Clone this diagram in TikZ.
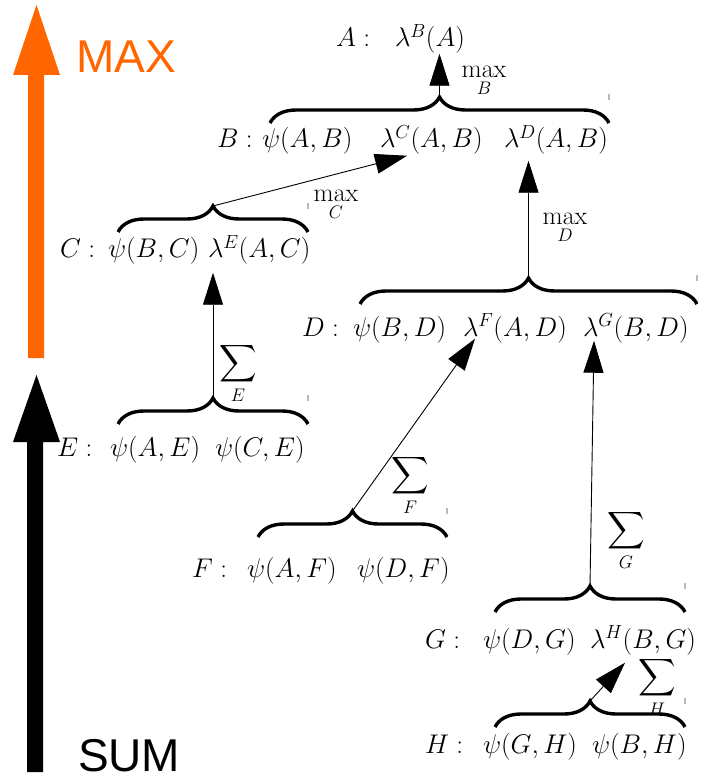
\RequirePackage{fix-cm}
\documentclass[tikz,border=0pt]{standalone}
\usepackage{fontspec}
\DeclareFontFamily{OMX}{cmex}{}
\DeclareFontShape{OMX}{cmex}{m}{n}{<->cmex10}{}
\newfontfamily\capsfont{Liberation Sans}
\usetikzlibrary{arrows.meta,decorations.pathreplacing,calc}
\definecolor{maxorange}{HTML}{FF6600}
\tikzset{
  txt/.style={inner sep=0pt, outer sep=0pt, anchor=base west, font=\fontsize{27}{32}\selectfont},
  lbl/.style={inner sep=0pt, outer sep=0pt, anchor=base, font=\fontsize{26}{31}\selectfont},
  brc/.style={decorate, decoration={brace, amplitude=26pt}, line width=3.4pt},
  conn/.style={line width=0.9pt, -{Triangle[length=32pt,width=20pt]}},
  tickmark/.style={gray!55, line width=1.2pt},
  bigtxt/.style={inner sep=0pt, outer sep=0pt, anchor=base west, font=\capsfont\fontsize{46}{50}\selectfont},
}
\begin{document}
\begin{tikzpicture}[x=1pt,y=-1pt]
\useasboundingbox (0,0) rectangle (701,775);

% big direction arrows
\fill[maxorange] (28,358) -- (28,75) -- (13,75) -- (36.5,5) -- (60,75) -- (44,75) -- (44,358) -- cycle;
\fill[black] (27,772) -- (27,442) -- (13,442) -- (36.5,375) -- (60,442) -- (43,442) -- (43,772) -- cycle;
\node[bigtxt, text=maxorange] (maxlab) at (76,73) {MAX};
\node[bigtxt] (sumlab) at (78,771) {SUM};

% row A
\node[txt] (A) at (336,47) {\(A:\)};
\node[txt] (lamBA) at (395,47) {\(\lambda^B(A)\)};
% row B
\node[txt] (B) at (217,148) {\(B:\)};
\node[txt] (psiAB) at (262,148) {\(\psi(A,B)\)};
\node[txt] (lamC) at (380,148) {\(\lambda^C(A,B)\)};
\node[txt] (lamD) at (504,148) {\(\lambda^D(A,B)\)};
% row C
\node[txt] (C) at (60,258) {\(C:\)};
\node[txt] (psiBC) at (108,258) {\(\psi(B,C)\)};
\node[txt] (lamE) at (208,258) {\(\lambda^E(A,C)\)};
% row E
\node[txt] (E) at (57,456) {\(E:\)};
\node[txt] (psiAE) at (110,456) {\(\psi(A,E)\)};
\node[txt] (psiCE) at (215,456) {\(\psi(C,E)\)};
% row D
\node[txt] (D) at (302,336) {\(D:\)};
\node[txt] (psiBD) at (353,336) {\(\psi(B,D)\)};
\node[txt] (lamF) at (463,336) {\(\lambda^F(A,D)\)};
\node[txt] (lamG) at (583,336) {\(\lambda^G(B,D)\)};
% row F
\node[txt] (F) at (192,577) {\(F:\)};
\node[txt] (psiAF) at (247,577) {\(\psi(A,F)\)};
\node[txt] (psiDF) at (357,577) {\(\psi(D,F)\)};
% row G
\node[txt] (G) at (425,648) {\(G:\)};
\node[txt] (psiDG) at (483,648) {\(\psi(D,G)\)};
\node[txt] (lamH) at (590,648) {\(\lambda^H(B,G)\)};
% row H
\node[txt] (H) at (425,753) {\(H:\)};
\node[txt] (psiGH) at (483,753) {\(\psi(G,H)\)};
\node[txt] (psiBH) at (592,753) {\(\psi(B,H)\)};

% braces
\coordinate (Bl) at (270,123); \coordinate (Br) at (609,123); \coordinate (Btip) at (439.5,97);
\coordinate (Cl) at (118,232); \coordinate (Cr) at (308,232); \coordinate (Ctip) at (213,206);
\coordinate (El) at (118,424); \coordinate (Er) at (308,424); \coordinate (Etip) at (213,398);
\coordinate (Dl) at (360,304); \coordinate (Dr) at (697,304); \coordinate (Dtip) at (528.5,278);
\coordinate (Fl) at (258,537); \coordinate (Fr) at (447,537); \coordinate (Ftip) at (352.5,511);
\coordinate (Gl) at (495,612); \coordinate (Gr) at (685,612); \coordinate (Gtip) at (590,586);
\coordinate (Hl) at (495,727); \coordinate (Hr) at (685,727); \coordinate (Htip) at (590,701);
\foreach \b in {B,C,E,D,F,G,H}{
  \draw[brc] (\b l) -- (\b r);
  \draw[tickmark] ($(\b r |- \b tip)+(0,-3)$) -- ($(\b r |- \b tip)+(0,3)$);
}

% operation labels
\node[lbl] (maxB) at (484,78) {\(\displaystyle\max_B\)};
\node[lbl] (maxC) at (336,202) {\(\displaystyle\max_C\)};
\node[lbl] (maxD) at (565,225) {\(\displaystyle\max_D\)};
\node[lbl] (sumE) at (238,370) {\(\displaystyle\sum_E\)};
\node[lbl] (sumF) at (410,482) {\(\displaystyle\sum_F\)};
\node[lbl] (sumG) at (626,537) {\(\displaystyle\sum_G\)};
\node[lbl] (sumH) at (657,684) {\(\displaystyle\sum_H\)};

% connectors
\draw[conn] (Btip) -- (Btip |- lamBA.south);
\draw[conn] (Ctip) -- ($(lamC.south west)+(27,1)$);
\draw[conn] (Dtip) -- ($(Dtip |- lamD.south)+(0,6)$);
\draw[conn] (Etip) -- ($(Etip |- lamE.south)+(0,8)$);
\draw[conn] (Ftip) -- ($(lamF.south west)+(12,-4)$);
\draw[conn] (Gtip) -- ($(lamG.south west)+(11,-2)$);
\draw[conn] (Htip) -- ($(lamH.south west)+(35,8)$);
\end{tikzpicture}
\end{document}
